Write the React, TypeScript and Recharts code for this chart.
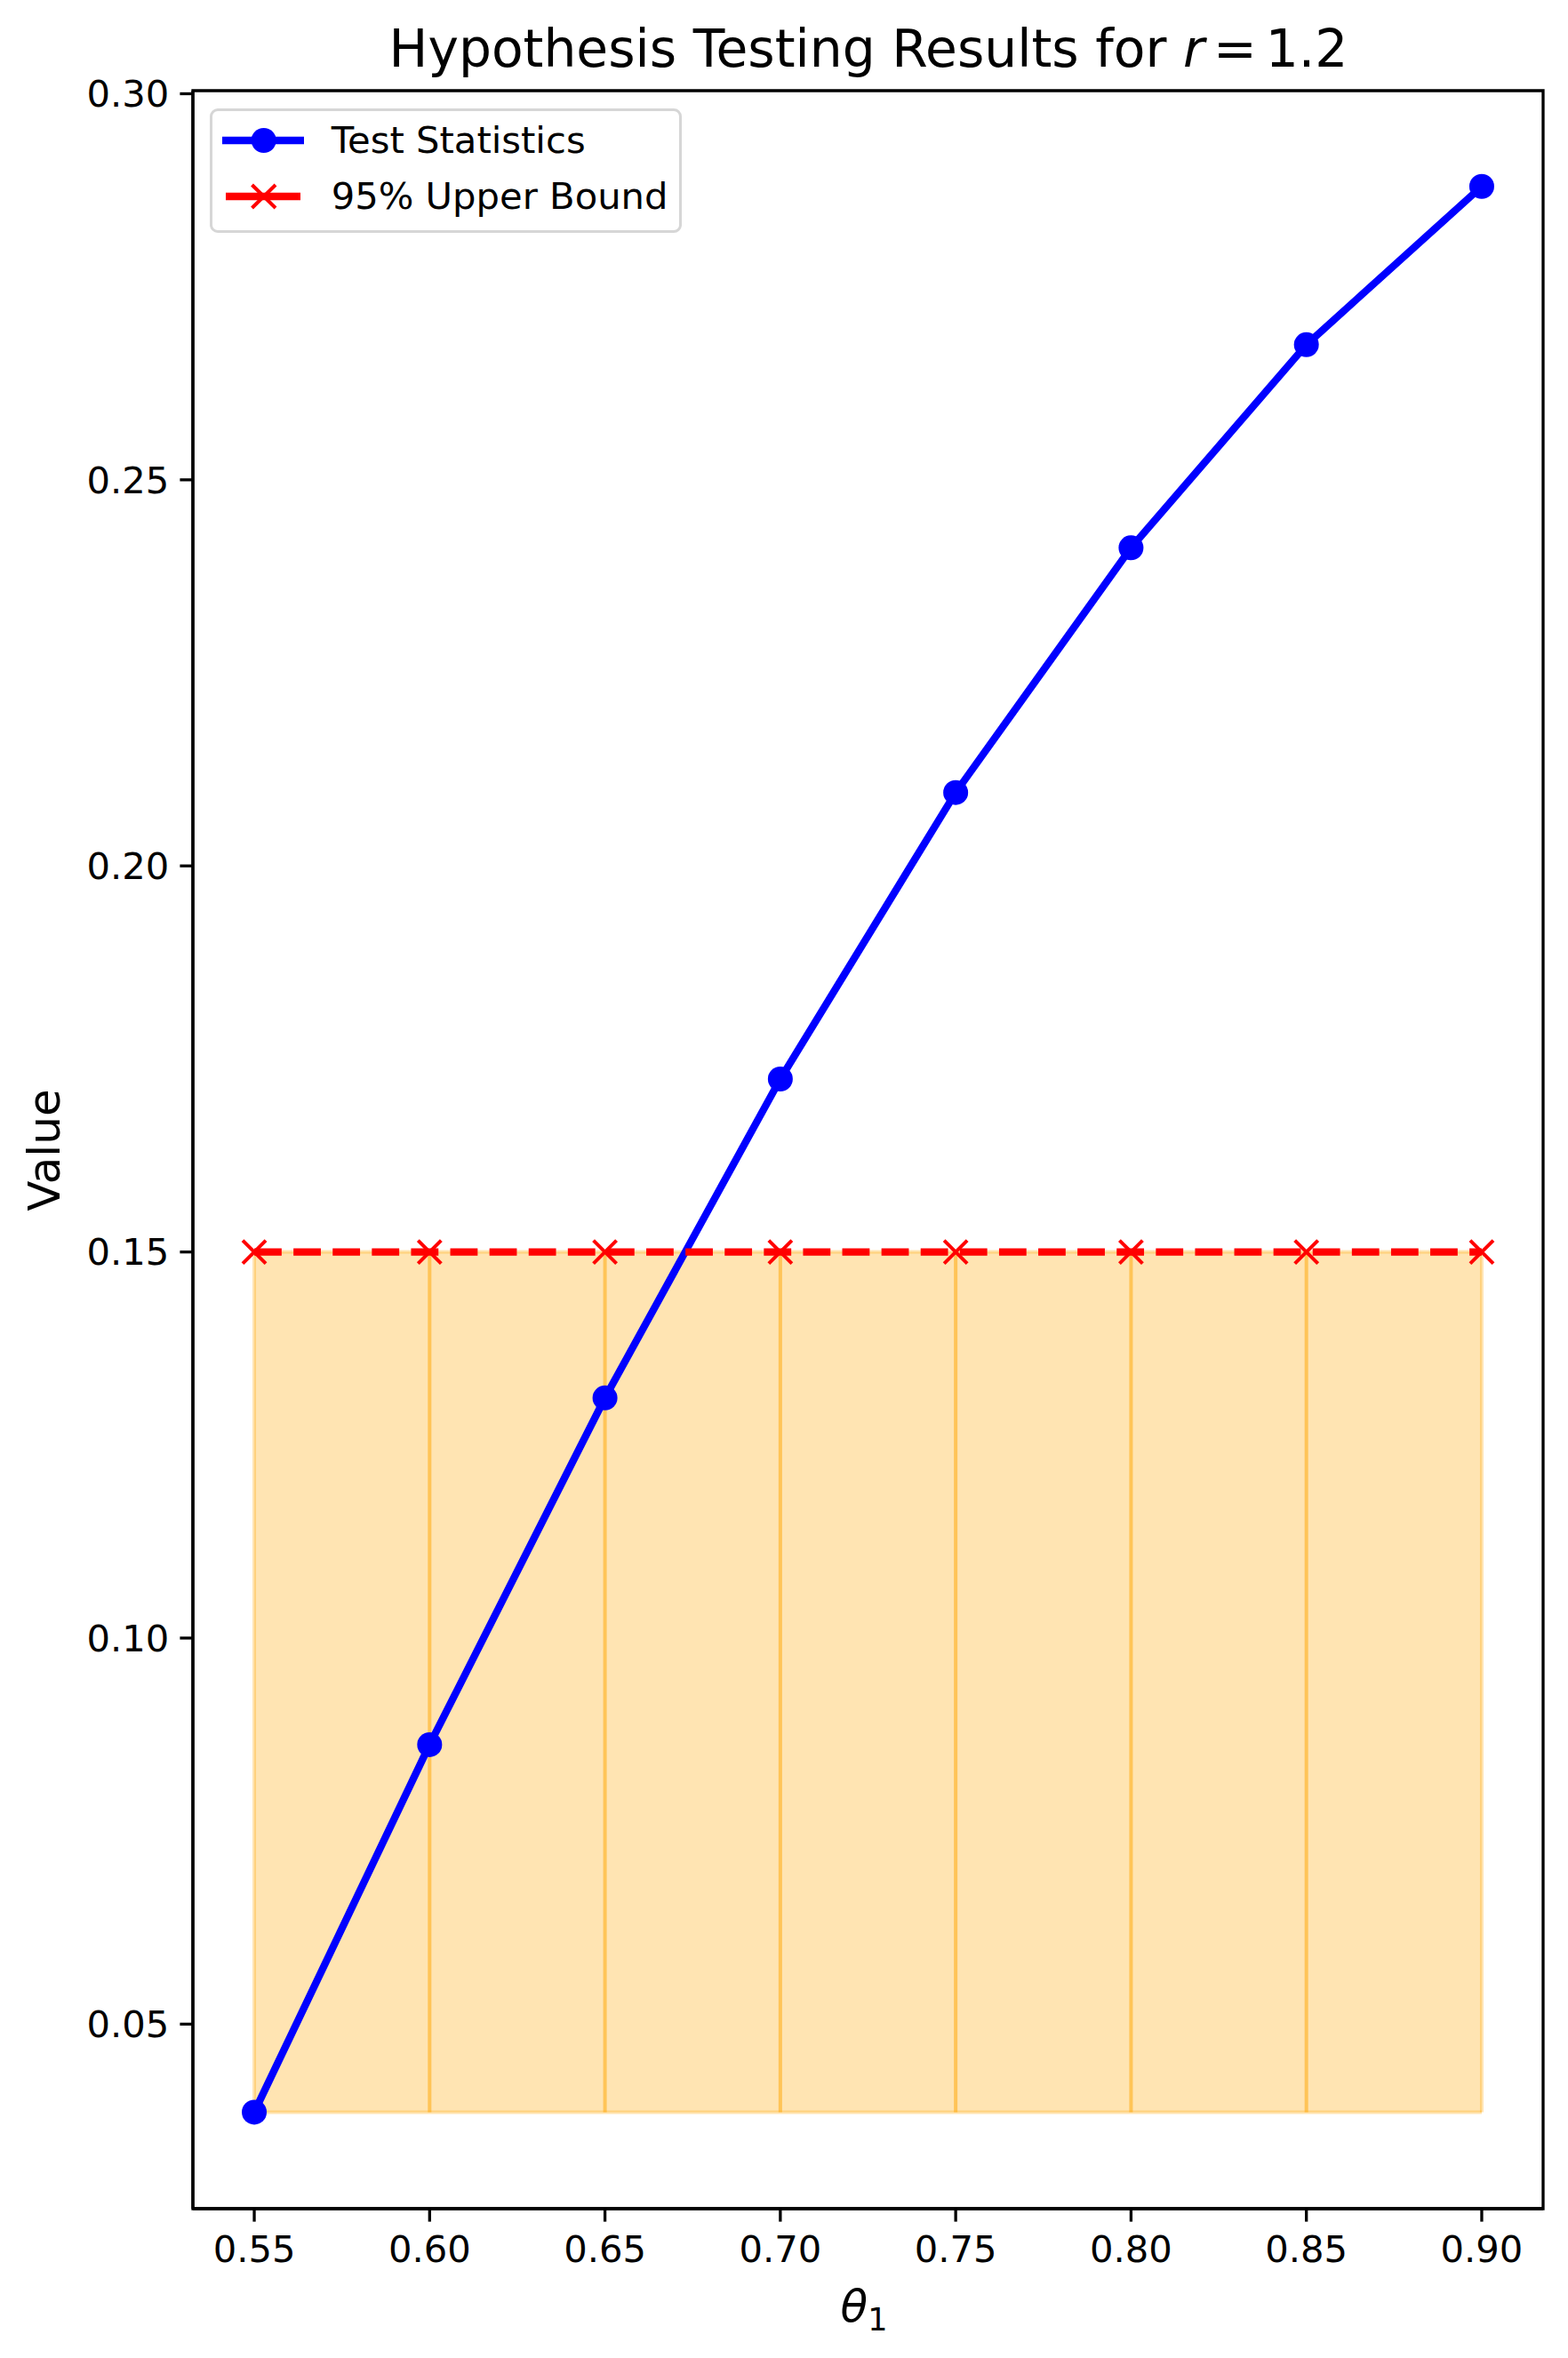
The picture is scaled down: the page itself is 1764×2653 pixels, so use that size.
import React from 'react'
import {
  ComposedChart,
  Line,
  Area,
  XAxis,
  YAxis,
  Legend,
  ReferenceLine,
  ReferenceArea,
} from 'recharts'

// Data
const THETA = [0.55, 0.6, 0.65, 0.7, 0.75, 0.8, 0.85, 0.9]
const TEST_STAT = [0.0386, 0.0862, 0.1311, 0.1724, 0.2095, 0.2412, 0.2675, 0.288]
const UPPER_BOUND = [0.15, 0.15, 0.15, 0.15, 0.15, 0.15, 0.15, 0.15]
const BAND_LOW = [0.0386, 0.0386, 0.0386, 0.0386, 0.0386, 0.0386, 0.0386, 0.0386]

const X_TICKS = [0.55, 0.6, 0.65, 0.7, 0.75, 0.8, 0.85, 0.9]
const Y_TICKS = [0.05, 0.1, 0.15, 0.2, 0.25, 0.3]
const X_DOMAIN = [0.5325, 0.9175]
const Y_DOMAIN = [0.0261, 0.3004]

const W = 1764
const H = 2653
const FONT = '"DejaVu Sans", sans-serif'
const SPINE = 3.3

const chartData = THETA.map((t, i) => ({
  theta: t,
  stat: TEST_STAT[i],
  upper: UPPER_BOUND[i],
  band: [BAND_LOW[i], UPPER_BOUND[i]],
}))

// red "x" marker
function XMarker(props: any) {
  const { cx, cy, index } = props
  const s = 13
  return (
    <g key={`xm-${index}`}>
      <line x1={cx - s} y1={cy - s} x2={cx + s} y2={cy + s} stroke="#ff0000" strokeWidth={4} />
      <line x1={cx - s} y1={cy + s} x2={cx + s} y2={cy - s} stroke="#ff0000" strokeWidth={4} />
    </g>
  )
}

function LegendBox() {
  const row = (center: number, label: string, kind: 'dot' | 'x') => (
    <div style={{ position: 'absolute', left: 0, top: center - 30, height: 60, width: '100%' }}>
      <svg width={110} height={60} style={{ position: 'absolute', left: 0, top: 0 }}>
        {kind === 'dot' ? (
          <>
            <line x1={11} y1={30} x2={103} y2={30} stroke="#0000ff" strokeWidth={8.3} />
            <circle cx={57.7} cy={30} r={14} fill="#0000ff" />
          </>
        ) : (
          <>
            <line x1={15} y1={30} x2={99} y2={30} stroke="#ff0000" strokeWidth={8.3} />
            <line x1={44.5} y1={17} x2={71} y2={43} stroke="#ff0000" strokeWidth={4} />
            <line x1={44.5} y1={43} x2={71} y2={17} stroke="#ff0000" strokeWidth={4} />
          </>
        )}
      </svg>
      <span
        style={{
          position: 'absolute',
          left: 133.7,
          top: 0,
          lineHeight: '60px',
          fontSize: 41.7,
          fontFamily: FONT,
          color: '#000',
          whiteSpace: 'nowrap',
        }}
      >
        {label}
      </span>
    </div>
  )
  return (
    <div
      style={{
        position: 'relative',
        width: 531,
        height: 140,
        boxSizing: 'border-box',
        border: '3.3px solid #d6d6d6',
        borderRadius: 9,
        background: 'rgba(255,255,255,0.8)',
      }}
    >
      {row(32.7, 'Test Statistics', 'dot')}
      {row(95.7, '95% Upper Bound', 'x')}
    </div>
  )
}

export default function App() {
  const tickStyle = { fontSize: 41.7, fontFamily: FONT, fill: '#000' }
  return (
    <div style={{ position: 'absolute', left: 0, top: 0, width: W, height: H, background: '#fff' }}>
      <ComposedChart
        width={W}
        height={H}
        data={chartData}
        margin={{ top: 102, right: 28, bottom: 0, left: 0 }}
      >
        <XAxis
          dataKey="theta"
          type="number"
          domain={X_DOMAIN}
          ticks={X_TICKS}
          allowDataOverflow
          height={168}
          tickFormatter={(v: number) => v.toFixed(2)}
          tick={tickStyle}
          tickSize={14.6}
          tickMargin={16}
          axisLine={{ stroke: '#000', strokeWidth: SPINE }}
          tickLine={{ stroke: '#000', strokeWidth: SPINE }}
        />
        <YAxis
          type="number"
          domain={Y_DOMAIN}
          ticks={Y_TICKS}
          allowDataOverflow
          width={217}
          tickFormatter={(v: number) => v.toFixed(2)}
          tick={tickStyle}
          tickSize={14.6}
          tickMargin={12}
          axisLine={{ stroke: '#000', strokeWidth: SPINE }}
          tickLine={{ stroke: '#000', strokeWidth: SPINE }}
        />

        {/* shaded band between the lowest statistic and the bound */}
        <Area
          dataKey="band"
          type="linear"
          fill="#ffa500"
          fillOpacity={0.3}
          stroke="#ffa500"
          strokeOpacity={0.3}
          strokeWidth={4}
          isAnimationActive={false}
          activeDot={false}
        />
        {THETA.map((t, i) => (
          <ReferenceLine
            key={`edge-${i}`}
            segment={[
              { x: t, y: BAND_LOW[i] },
              { x: t, y: UPPER_BOUND[i] },
            ]}
            stroke="#ffa500"
            strokeOpacity={i === 0 || i === THETA.length - 1 ? 0.3 : 0.51}
            strokeWidth={4}
          />
        ))}

        <Line
          dataKey="stat"
          type="linear"
          stroke="#0000ff"
          strokeWidth={8.3}
          dot={{ r: 14, fill: '#0000ff', stroke: '#0000ff', strokeWidth: 0 }}
          activeDot={false}
          isAnimationActive={false}
        />
        <Line
          dataKey="upper"
          type="linear"
          stroke="#ff0000"
          strokeWidth={8.3}
          strokeDasharray="30.8 13.3"
          dot={XMarker}
          activeDot={false}
          isAnimationActive={false}
        />

        {/* top and right spines */}
        <ReferenceArea
          x1={X_DOMAIN[0]}
          x2={X_DOMAIN[1]}
          y1={Y_DOMAIN[0]}
          y2={Y_DOMAIN[1]}
          fill="none"
          stroke="#000"
          strokeWidth={SPINE}
          ifOverflow="visible"
        />

        <Legend
          layout="vertical"
          align="center"
          verticalAlign="middle"
          content={() => <LegendBox />}
          wrapperStyle={{ left: 236, top: 122, width: 531, height: 140 }}
        />
      </ComposedChart>

      <svg
        width={W}
        height={H}
        style={{ position: 'absolute', left: 0, top: 0, pointerEvents: 'none' }}
      >
        <text x={977} y={75} textAnchor="middle" fontSize={58.3} fontFamily={FONT} fill="#000">
          Hypothesis Testing Results for{' '}
          <tspan fontStyle="italic">r</tspan>
          <tspan dx={10}>=</tspan>
          <tspan dx={10}>1.2</tspan>
        </text>
        <text
          x={50}
          y={1294}
          textAnchor="middle"
          dominantBaseline="central"
          fontSize={50}
          fontFamily={FONT}
          fill="#000"
          transform="rotate(-90 50 1294)"
        >
          Value
        </text>
        <text x={972} y={2612} textAnchor="middle" fontSize={50} fontFamily={FONT} fill="#000">
          <tspan fontStyle="italic">θ</tspan>
          <tspan fontSize={35} dy={10}>1</tspan>
        </text>
      </svg>
    </div>
  )
}
